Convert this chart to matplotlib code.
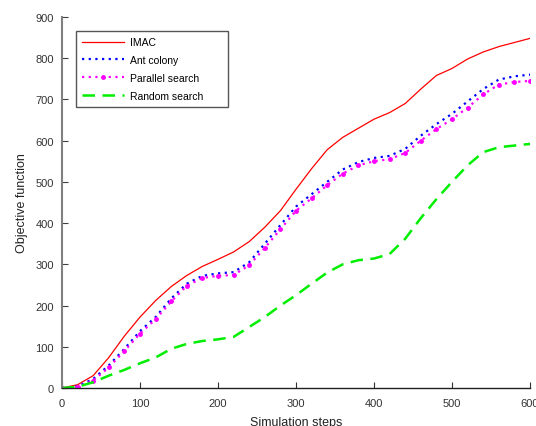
import matplotlib
matplotlib.use("Agg")
import matplotlib.pyplot as plt

plt.rcParams['font.family'] = ['Liberation Sans', 'DejaVu Sans']

# simulation steps and objective values for each method
steps = [0, 20, 40, 60, 80, 100, 120, 140, 160, 180, 200, 220, 240, 260, 280, 300,
         320, 340, 360, 380, 400, 420, 440, 460, 480, 500, 520, 540, 560, 580, 600]
imac = [0, 8, 30, 74, 126, 172, 212, 246, 273, 295, 312, 330, 355, 390, 430, 482,
        532, 578, 608, 630, 652, 668, 690, 725, 758, 775, 798, 815, 828, 838, 848]
ant_colony = [0, 4, 22, 55, 95, 138, 172, 217, 253, 272, 278, 281, 305, 350, 395, 440,
              470, 500, 530, 548, 558, 563, 580, 612, 640, 665, 695, 725, 748, 756, 760]
parallel_search = [0, 3, 18, 50, 90, 132, 167, 210, 248, 267, 272, 274, 298, 340, 385, 430,
                   460, 492, 520, 540, 550, 555, 570, 600, 628, 652, 680, 712, 736, 742, 745]
random_search = [0, 3, 14, 30, 44, 60, 74, 95, 107, 114, 118, 124, 148, 172, 200, 225,
                 253, 280, 300, 310, 314, 325, 362, 412, 458, 500, 540, 572, 584, 588, 592]

fig = plt.figure(figsize=(5.36, 4.27), dpi=100)
ax = fig.add_axes([0.1157, 0.089, 0.8731, 0.869])

ax.plot(steps, imac, color='#ff0000', linewidth=0.9, label='IMAC')
ax.plot(steps, ant_colony, color='#0000ff', linestyle=(0, (1, 2)), linewidth=1.6, label='Ant colony')
ax.plot(steps, parallel_search, color='#ff00ff', linestyle=(0, (1, 2)), linewidth=1.6,
        marker='o', markersize=2.5, markevery=1, label='Parallel search')
ax.plot(steps, random_search, color='#00ee00', linestyle=(0, (5, 3)), linewidth=1.8, label='Random search')

ax.set_xlim(0, 600)
ax.set_ylim(0, 900)
ax.set_xticks(range(0, 601, 100))
ax.set_yticks(range(0, 901, 100))

for side in ['top', 'right']:
    ax.spines[side].set_visible(False)
ax.spines['left'].set_color('#808080')
ax.spines['left'].set_linewidth(1.5)
ax.spines['bottom'].set_color('#202020')
ax.spines['bottom'].set_linewidth(1.0)
ax.tick_params(axis='both', direction='in', length=4, labelsize=8, colors='#333333', pad=7)
ax.tick_params(axis='y', color='#404040', pad=6)

ax.set_xlabel('Simulation steps', fontsize=9, color='#222222', labelpad=6)
ax.set_ylabel('Objective function', fontsize=9, color='#222222', labelpad=5)

# wide legend box, entries kept on the left
leg = ax.legend(loc='upper left', bbox_to_anchor=(0.03, 0.5, 0.325, 0.462), mode='expand',
                borderaxespad=0, fontsize=7.5, handlelength=4.0, handletextpad=0.6,
                labelspacing=0.75, fancybox=False, framealpha=1, borderpad=0.6)
leg.get_frame().set_edgecolor('#555555')
leg.get_frame().set_linewidth(1.0)

fig.savefig('out.png', dpi=100)
